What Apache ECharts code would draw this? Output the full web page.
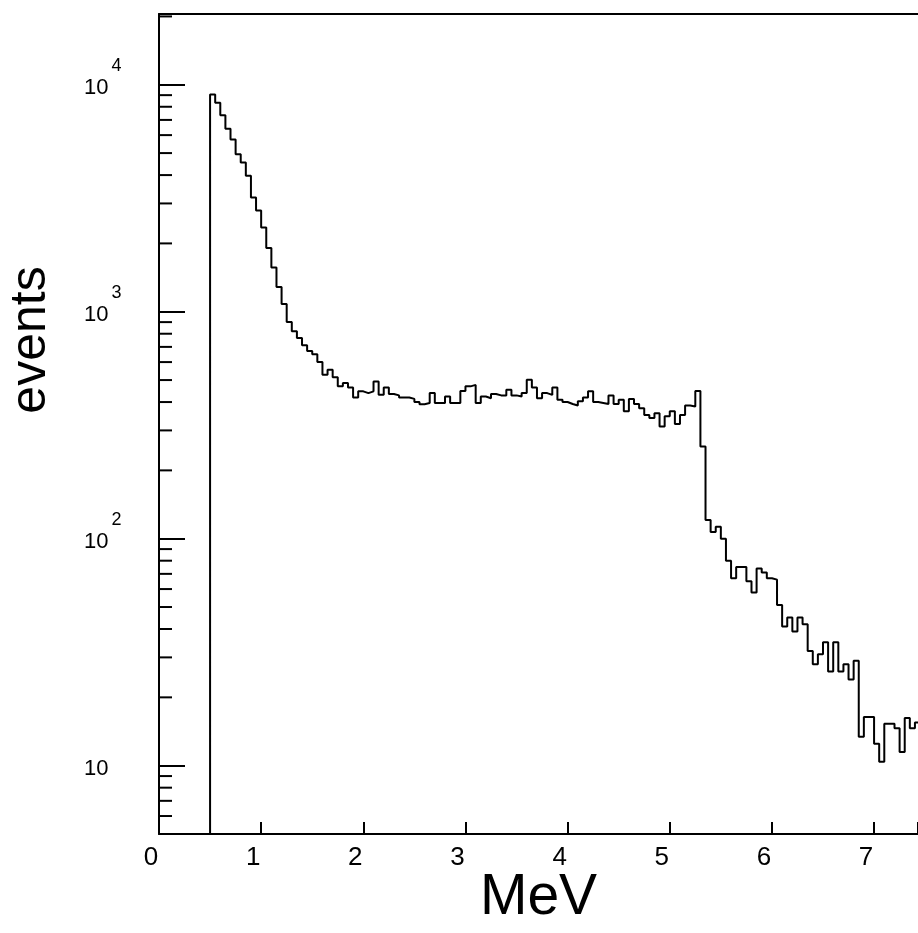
<!DOCTYPE html>
<html>
<head>
<meta charset="utf-8">
<script src="https://cdn.jsdelivr.net/npm/echarts@6/dist/echarts.min.js"></script>
<style>
  html, body { margin: 0; padding: 0; background: #fff; }
  #chart { width: 918px; height: 933px; }
</style>
</head>
<body>
<div id="chart"></div>
<script>
// Energy spectrum: counts per 0.05 MeV bin, starting at 0.5 MeV
const BIN_START = 0.5;   // MeV, left edge of the first bin
const BIN_WIDTH = 0.05;  // MeV
const counts = [
  // 0.50 - 1.60
  9060, 8330, 7340, 6400, 5740, 4940, 4540, 3970, 3190, 2790, 2350, 1910,
  1565, 1285, 1081, 901, 820, 766, 711, 671, 650, 600,
  // 1.60 - 2.75
  527, 555, 514, 469, 485, 464, 419, 446, 438, 446, 493, 431, 464, 434, 428,
  419, 419, 413, 400, 391, 396, 438, 396,
  // 2.75 - 5.30
  396, 423, 396, 396, 448, 469, 476, 396, 423, 416, 434, 428, 428, 453, 428,
  423, 438, 501, 464, 416, 438, 430, 464, 409, 400, 392, 386, 403, 419, 446,
  400, 396, 392, 428, 392, 409, 364, 413, 392, 376, 351, 340, 357, 312, 346,
  364, 320, 351, 386, 382, 448,
  // 5.30 - 7.45
  255, 121, 107, 113, 100, 80, 67, 75, 75, 65, 58, 74, 71, 67, 66, 51, 41, 45,
  39, 45, 42, 32, 28, 31, 35, 26, 35, 26, 28, 24, 29, 13.4, 16.4, 16.4, 12.5,
  10.4, 15.3, 15.3, 14.6, 11.5, 16.2, 14.6, 15.5
];

// Axis ranges and tick values
const X_MIN = 0, X_MAX = 7.43, X_INTERVAL = 1;
const Y_MIN = 5, Y_MAX = 20500;
const yMinorTickValues = [];
for (let k = 0; k <= 4; k++) {
  for (let m = 2; m <= 9; m++) {
    const v = m * Math.pow(10, k);
    if (v > Y_MIN && v < Y_MAX) yMinorTickValues.push(v);
  }
}

// Step outline: rise from the axis floor at the first edge, then one point per bin edge
const outline = [[BIN_START, Y_MIN]];
counts.forEach((c, i) => outline.push([BIN_START + i * BIN_WIDTH, c]));
outline.push([BIN_START + counts.length * BIN_WIDTH, counts[counts.length - 1]]);

const FONT = '"Liberation Sans", Arial, Helvetica, sans-serif';
const INK = '#000';

const chart = echarts.init(document.getElementById('chart'), null, { renderer: 'canvas' });

chart.setOption({
  animation: false,
  backgroundColor: '#fff',
  grid: { left: 159, right: 0, top: 14, bottom: 99, containLabel: false, outerBoundsMode: 'none' },
  xAxis: [
    {
      type: 'value',
      min: X_MIN,
      max: X_MAX,
      interval: X_INTERVAL,
      axisLine: { show: true, onZero: false, lineStyle: { color: INK, width: 2 } },
      axisTick: { show: true, inside: true, length: 12, lineStyle: { color: INK, width: 2 } },
      axisLabel: {
        color: INK,
        fontSize: 26,
        fontFamily: FONT,
        margin: 11,
        padding: [0, 16, 0, 0],
        formatter: v => (Number.isInteger(v) ? String(v) : '')
      },
      splitLine: { show: false },
      name: 'MeV',
      nameLocation: 'middle',
      nameGap: 36,
      nameMoveOverlap: false,
      nameTextStyle: { color: INK, fontSize: 57, fontFamily: FONT }
    },
    {
      type: 'value',
      position: 'top',
      min: X_MIN,
      max: X_MAX,
      axisLine: { show: true, onZero: false, lineStyle: { color: INK, width: 2 } },
      axisTick: { show: false },
      axisLabel: { show: false },
      splitLine: { show: false }
    }
  ],
  yAxis: {
    type: 'log',
    logBase: 10,
    min: Y_MIN,
    max: Y_MAX,
    axisLine: { show: true, onZero: false, lineStyle: { color: INK, width: 2 } },
    axisTick: { show: true, inside: true, length: 26, lineStyle: { color: INK, width: 2 } },
    axisLabel: {
      align: 'left',
      margin: 75,
      color: INK,
      formatter: v => {
        const e = Math.log10(v);
        if (Math.abs(e - Math.round(e)) > 1e-6) return '';
        const p = Math.round(e);
        return p === 1 ? '{b|10}' : '{b|10}{s|' + p + '}';
      },
      rich: {
        // base "10" is padded so the exponent, aligned to the top of the line, sits well above it
        b: { fontSize: 22, fontFamily: FONT, color: INK, padding: [20, 0, 14, 0] },
        s: { fontSize: 18, fontFamily: FONT, color: INK, verticalAlign: 'top', padding: [0, 0, 0, 3] }
      }
    },
    splitLine: { show: false },
    name: 'events',
    nameLocation: 'middle',
    nameRotate: 90,
    nameGap: 103,
    nameMoveOverlap: false,
    nameTextStyle: { color: INK, fontSize: 50, fontFamily: FONT, padding: [0, 0, 0, 168] }
  },
  series: [
    {
      name: 'events',
      type: 'line',
      xAxisIndex: 0,
      data: outline,
      step: 'end',
      showSymbol: false,
      symbol: 'none',
      lineStyle: { color: INK, width: 2 },
      clip: true,
      z: 4
    },
    {
      // minor decade ticks (2..9) along the left axis
      type: 'custom',
      xAxisIndex: 0,
      coordinateSystem: 'cartesian2d',
      silent: true,
      data: yMinorTickValues.map(v => [X_MIN, v]),
      renderItem: (params, api) => {
        const p = api.coord([api.value(0), api.value(1)]);
        return {
          type: 'line',
          shape: { x1: p[0], y1: p[1], x2: p[0] + 13, y2: p[1] },
          style: { stroke: INK, lineWidth: 2 }
        };
      },
      z: 3
    }
  ]
});
</script>
</body>
</html>
